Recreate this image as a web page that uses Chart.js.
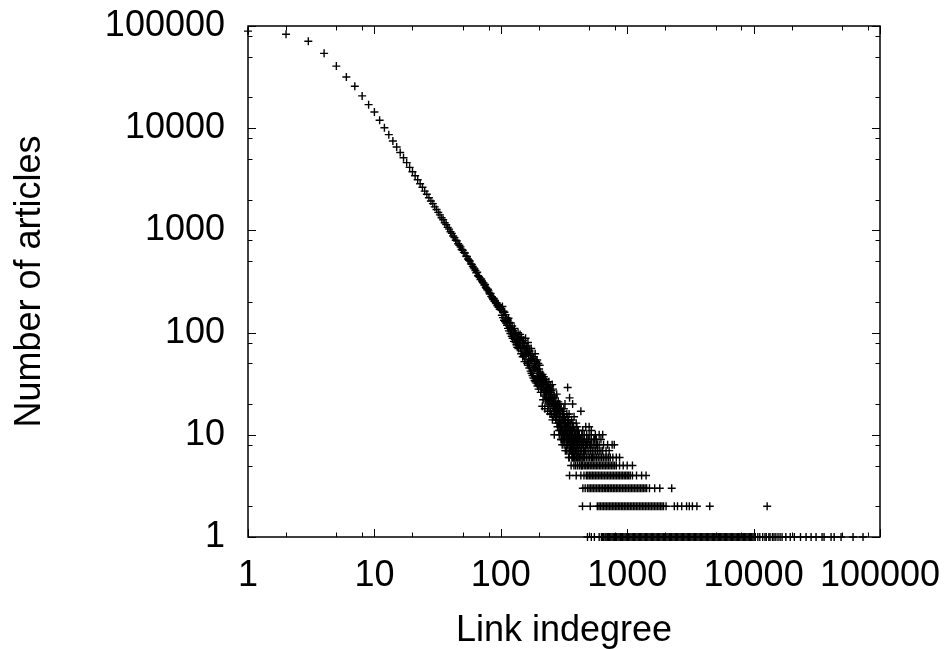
<!DOCTYPE html>
<html>
<head>
<meta charset="utf-8">
<script src="https://cdn.jsdelivr.net/npm/chart.js@4"></script>
<style>
  body { margin: 0; background: #fff; }
</style>
</head>
<body>
<canvas id="indegree" width="950" height="649"></canvas>
<script>
// number of articles for link indegree 1, 2, 3 ... 300
const headArticles = [
  89000, 83000, 71000, 54000, 40500, 31700, 25700, 20700, 17000, 14400,
  11970, 10100, 8650, 7490, 6550, 5780, 5140, 4600, 4140, 3750,
  3420, 3130, 2860, 2640, 2420, 2260, 2090, 1940, 1830, 1700,
  1600, 1500, 1420, 1330, 1270, 1190, 1140, 1070, 1030, 970,
  935, 880, 850, 800, 790, 740, 715, 690, 650, 640,
  610, 600, 560, 555, 525, 510, 500, 470, 465, 445,
  430, 420, 405, 385, 390, 360, 355, 345, 330, 335,
  320, 310, 306, 292, 296, 278, 272, 262, 266, 256,
  245, 238, 242, 226, 224, 218, 211, 216, 202, 206,
  197, 192, 195, 183, 187, 177, 181, 169, 175, 167,
  170, 148, 180, 140, 162, 132, 158, 128, 150, 124,
  140, 118, 132, 110, 138, 104, 126, 112, 98, 124,
  108, 92, 116, 88, 104, 96, 82, 110, 86, 100,
  80, 98, 76, 92, 72, 88, 100, 70, 86, 78,
  84, 96, 70, 80, 62, 90, 66, 80, 58, 74,
  84, 60, 72, 52, 78, 64, 88, 55, 70, 62,
  74, 50, 63, 80, 48, 60, 70, 45, 66, 52,
  60, 42, 55, 70, 40, 53, 62, 38, 56, 46,
  36, 58, 43, 50, 34, 47, 62, 33, 45, 52,
  32, 48, 37, 54, 30, 42, 36, 50, 28, 40,
  44, 34, 48, 31, 41, 35, 26, 38, 33, 28,
  36, 32, 19, 39, 30, 22, 34, 29, 37, 27,
  24, 33, 18, 25, 35, 27, 22, 31, 26, 33,
  23, 28, 21, 31, 17, 27, 20, 29, 23, 33,
  19, 28, 22, 25, 16, 30, 17, 23, 26, 20,
  22, 27, 16, 21, 31, 14, 23, 19, 28, 15,
  21, 18, 20, 24, 10, 19, 16, 23, 15, 20,
  17, 14, 21, 16, 19, 15, 25, 13, 17, 20,
  12, 16, 19, 14, 21, 13, 17, 11, 16, 18,
  13, 15, 20, 12, 16, 11, 17, 13, 14, 18
];

// scattered points above 300
const tailDegree = [301, 302, 303, 304, 305, 306, 307, 308, 309, 310, 311, 312, 313, 314, 315,
  316, 317, 318, 319, 320, 321, 322, 323, 324, 325, 326, 327, 328, 329, 330,
  331, 332, 333, 334, 335, 336, 337, 338, 339, 340, 341, 342, 343, 344, 345,
  346, 347, 348, 349, 350, 351, 352, 353, 354, 355, 356, 357, 358, 359, 360,
  361, 362, 363, 364, 365, 366, 367, 368, 369, 370, 371, 372, 373, 375, 376,
  377, 378, 379, 380, 381, 382, 383, 384, 386, 387, 389, 391, 392, 394, 395,
  396, 398, 400, 401, 403, 405, 407, 409, 410, 412, 414, 417, 419, 421, 424,
  427, 430, 432, 436, 440, 445, 448, 455, 462, 470, 475, 490, 500, 510, 520,
  530, 550, 580];
const tailArticles = [9, 12, 13, 10, 14, 8, 15, 17, 11, 13, 9, 14, 16, 10, 18,
  12, 8, 12, 15, 14, 9, 20, 11, 7, 13, 14, 10, 11, 8, 12,
  12, 9, 16, 11, 15, 8, 13, 29, 10, 7, 11, 12, 9, 14, 12,
  8, 16, 11, 6, 23, 10, 13, 8, 9, 11, 12, 7, 13, 10, 5,
  9, 11, 14, 8, 6, 11, 9, 12, 7, 20, 10, 13, 8, 6, 9,
  12, 7, 5, 15, 10, 11, 8, 6, 9, 11, 7, 5, 10, 8, 13,
  6, 9, 12, 7, 11, 5, 8, 6, 11, 9, 7, 10, 5, 8, 6,
  9, 17, 7, 5, 8, 11, 6, 9, 7, 12, 8, 9, 12, 8, 11,
  6, 9, 8];

// degrees that have exactly 1, 2, ... 10 articles
const ones = [485, 520, 550, 600, 625, 640, 652, 668, 681, 697, 710, 727, 742, 759, 775,
  792, 809, 826, 845, 863, 882, 901, 921, 941, 962, 983, 1005, 1027, 1049, 1072,
  1096, 1120, 1145, 1170, 1196, 1222, 1249, 1276, 1305, 1333, 1363, 1393, 1424, 1455, 1487,
  1520, 1553, 1588, 1622, 1658, 1695, 1732, 1770, 1809, 1849, 1890, 1931, 1974, 2017, 2062,
  2107, 2154, 2201, 2249, 2299, 2350, 2401, 2454, 2508, 2563, 2620, 2677, 2736, 2796, 2858,
  2921, 2985, 3051, 3118, 3186, 3256, 3328, 3401, 3476, 3553, 3631, 3711, 3792, 3876, 3961,
  4048, 4137, 4228, 4321, 4416, 4513, 4612, 4714, 4818, 4924, 5032, 5143, 5256, 5371, 5489,
  5610, 5734, 5860, 5989, 6121, 6255, 6393, 6533, 6677, 6824, 6974, 7127, 7284, 7444, 7608,
  7775, 7946, 8121, 8300, 8482, 8669, 8860, 9055, 9254, 9457, 9665, 9878, 10095, 10320, 10800,
  11200, 11800, 12300, 12600, 13200, 13500, 14100, 14500, 15000, 15600, 16200, 16800, 18000, 19500, 21000,
  23500, 26000, 28500, 31200, 34800, 36100, 41000, 43400, 49200, 61200, 73400];
const twos = [443, 510, 580, 598, 613, 632, 648, 667, 684, 704, 722, 743, 762, 784, 805,
  828, 850, 874, 898, 923, 948, 975, 1002, 1030, 1058, 1088, 1118, 1149, 1181, 1214,
  1248, 1283, 1318, 1355, 1393, 1432, 1472, 1513, 1555, 1599, 1643, 1689, 1737, 1785, 1835,
  1886, 1939, 2030, 2360, 2500, 2700, 2950, 3100, 3280, 3560, 4500, 12800];
const threes = [446, 465, 485, 499, 513, 527, 542, 557, 573, 589, 605, 622, 640, 658, 676,
  695, 714, 734, 755, 776, 798, 820, 843, 867, 891, 916, 942, 968, 995, 1023,
  1052, 1081, 1111, 1142, 1174, 1207, 1241, 1276, 1311, 1348, 1386, 1425, 1500, 1650, 1810, 2250];
const fours = [350, 395, 430, 455, 475, 488, 502, 516, 530, 545, 560, 576, 592, 609, 626,
  643, 661, 680, 699, 718, 738, 759, 780, 802, 825, 848, 871, 896, 921, 947,
  973, 1000, 1028, 1057, 1100, 1185, 1300, 1410];
const fives = [432, 444, 457, 470, 483, 496, 510, 525, 539, 555, 570, 586, 603, 619, 637,
  655, 673, 692, 711, 731, 752, 773, 795, 820, 870, 930, 1000, 1100];
const sixes = [345, 370, 382, 394, 406, 419, 432, 446, 460, 475, 490, 505, 521, 538, 555,
  572, 590, 609, 628, 648, 669, 690, 712, 735, 770, 820, 870];
const sevens = [330, 350, 362, 374, 386, 398, 411, 424, 438, 452, 466, 481, 497, 513, 529,
  546, 563, 581, 600, 620, 640, 680, 720];
const eights = [355, 368, 381, 394, 408, 422, 437, 452, 468, 484, 501, 519, 537, 556, 575,
  600, 650, 700, 760, 790];
const nines = [300, 315, 330, 345, 360, 375, 390, 406, 423, 440, 458, 477, 497, 520, 545, 570, 620];
const tens = [290, 305, 320, 335, 350, 366, 383, 400, 418, 437, 457, 478, 500, 520, 560, 600, 640];

const decades = [1, 10, 100, 1000, 10000, 100000];
const minorSteps = [2, 5, 8];

const points = headArticles.map((n, i) => ({ x: i + 1, y: n }));
tailDegree.forEach((k, i) => points.push({ x: k, y: tailArticles[i] }));
[ones, twos, threes, fours, fives, sixes, sevens, eights, nines, tens].forEach((row, i) => {
  row.forEach((k) => points.push({ x: k, y: i + 1 }));
});

Chart.defaults.font.family = "'Liberation Sans', Arial, sans-serif";
Chart.defaults.color = "#000";

// gnuplot style box with inward major and minor tics on all four sides
const frame = {
  id: "frame",
  afterDatasetsDraw(chart) {
    const { ctx, chartArea: a, scales: { x, y } } = chart;
    ctx.save();
    ctx.strokeStyle = "#000";
    ctx.lineWidth = 1;
    ctx.beginPath();
    decades.forEach((d) => {
      [1].concat(minorSteps).forEach((m) => {
        const v = d * m;
        if (v > 100000) return;
        const len = m === 1 ? 8 : 4.5;
        const px = Math.round(x.getPixelForValue(v)) + 0.5;
        const py = Math.round(y.getPixelForValue(v)) + 0.5;
        ctx.moveTo(px, a.bottom); ctx.lineTo(px, a.bottom - len);
        ctx.moveTo(px, a.top); ctx.lineTo(px, a.top + len);
        ctx.moveTo(a.left, py); ctx.lineTo(a.left + len, py);
        ctx.moveTo(a.right, py); ctx.lineTo(a.right - len, py);
      });
    });
    ctx.stroke();
    ctx.lineWidth = 1.5;
    ctx.strokeRect(a.left, a.top, a.right - a.left, a.bottom - a.top);
    ctx.restore();
  },
};

const indegree = document.getElementById("indegree").getContext("2d");

let indegreeChart = new Chart(indegree, {
  type: "scatter",
  data: {
    datasets: [
      {
        label: "articles",
        data: points,
        pointStyle: "cross",
        pointRadius: 4,
        borderColor: "#000",
        backgroundColor: "#000",
        borderWidth: 1.4,
        clip: false,
      },
    ],
  },
  options: {
    responsive: false,
    animation: false,
    events: [],
    layout: {
      padding: { left: 0, top: 26, right: 70, bottom: 0 },
    },
    plugins: {
      legend: { display: false },
      tooltip: { enabled: false },
    },
    scales: {
      x: {
        type: "logarithmic",
        min: 1,
        max: 100000,
        afterBuildTicks: (scale) => {
          scale.ticks = decades.map((v) => ({ value: v }));
        },
        afterFit: (scale) => {
          scale.height = 112;
          scale.paddingLeft = 0;
          scale.paddingRight = 0;
        },
        grid: { display: false, drawTicks: false },
        border: { display: false },
        ticks: {
          autoSkip: false,
          maxRotation: 0,
          padding: 21,
          font: { size: 36, lineHeight: 1 },
          callback: (value) => String(value),
        },
        title: {
          display: true,
          text: "Link indegree",
          font: { size: 36, lineHeight: 1 },
          padding: { top: 0, bottom: 0 },
        },
      },
      y: {
        type: "logarithmic",
        min: 1,
        max: 100000,
        afterBuildTicks: (scale) => {
          scale.ticks = decades.map((v) => ({ value: v }));
        },
        afterFit: (scale) => {
          scale.width = 248;
          scale.paddingTop = 0;
          scale.paddingBottom = 0;
        },
        grid: { display: false, drawTicks: false },
        border: { display: false },
        ticks: {
          autoSkip: false,
          padding: 23,
          font: { size: 36, lineHeight: 1 },
          callback: (value) => String(value),
        },
        title: {
          display: true,
          text: "Number of articles",
          font: { size: 36, lineHeight: 1 },
          padding: { top: 12, bottom: 0 },
        },
      },
    },
  },
  plugins: [frame],
});
</script>
</body>
</html>
